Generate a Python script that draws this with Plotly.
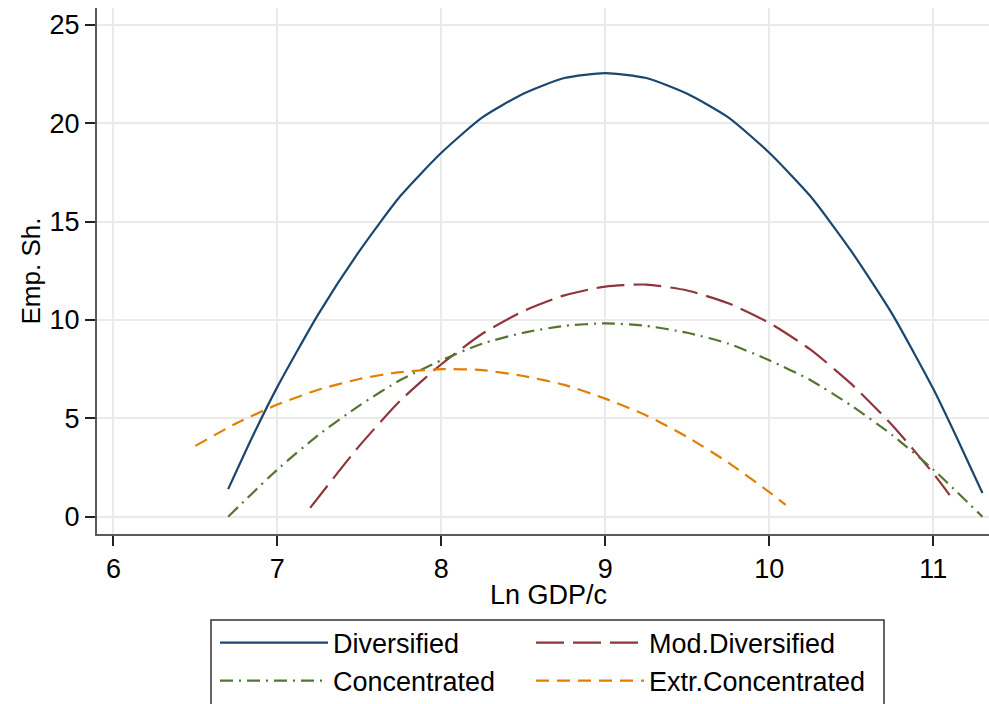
import plotly.graph_objects as go

# ---- data ----
div_x = [6.7, 6.85, 7.0, 7.25, 7.5, 7.75, 8.0, 8.25, 8.5, 8.75, 9.0, 9.25, 9.5, 9.75, 10.0, 10.25, 10.5, 10.75, 11.0, 11.15, 11.3]
div_y = [1.4, 4.1, 6.6, 10.3, 13.5, 16.3, 18.5, 20.3, 21.5, 22.3, 22.55, 22.3, 21.5, 20.3, 18.5, 16.3, 13.5, 10.3, 6.5, 3.9, 1.2]

mod_x = [7.2, 7.5, 7.75, 8.0, 8.25, 8.5, 8.75, 9.0, 9.25, 9.5, 9.75, 10.0, 10.25, 10.5, 10.75, 11.0, 11.1]
mod_y = [0.45, 3.6, 5.9, 7.75, 9.3, 10.45, 11.25, 11.7, 11.8, 11.5, 10.85, 9.85, 8.5, 6.75, 4.65, 2.2, 1.1]

con_x = [6.7, 7.0, 7.25, 7.5, 7.75, 8.0, 8.25, 8.5, 8.75, 9.0, 9.25, 9.5, 9.75, 10.0, 10.25, 10.5, 10.75, 11.0, 11.3]
con_y = [0.0, 2.4, 4.15, 5.65, 6.95, 7.95, 8.8, 9.35, 9.7, 9.83, 9.7, 9.35, 8.8, 7.95, 6.95, 5.65, 4.15, 2.4, 0.0]

ext_x = [6.5, 6.75, 7.0, 7.25, 7.5, 7.75, 8.0, 8.25, 8.5, 8.75, 9.0, 9.25, 9.5, 9.75, 10.0, 10.1]
ext_y = [3.6, 4.75, 5.7, 6.45, 7.0, 7.35, 7.5, 7.45, 7.15, 6.7, 6.0, 5.15, 4.05, 2.75, 1.25, 0.6]

names = ["Diversified", "Mod.Diversified", "Concentrated", "Extr.Concentrated"]
x_ticks = [6, 7, 8, 9, 10, 11]
y_ticks = [0, 5, 10, 15, 20, 25]
x_title = "Ln GDP/c"
y_title = "Emp. Sh."

FONT = "Liberation Sans, Arial, sans-serif"

# (x, y, name, colour, dash, legend row, entry width)
series = [
    (div_x, div_y, names[0], "#1a476f", "solid", "legend", 193),
    (mod_x, mod_y, names[1], "#90353b", "28px,9px", "legend", 300),
    (con_x, con_y, names[2], "#55752f", "13px,6px,2px,6px", "legend2", 193),
    (ext_x, ext_y, names[3], "#e37e00", "13px,8px", "legend2", 300),
]

fig = go.Figure()
for xs, ys, nm, col, dash, lg, lw in series:
    fig.add_trace(go.Scatter(
        x=xs, y=ys, name=nm, mode="lines", legend=lg, legendwidth=lw,
        line=dict(color=col, width=2.2, dash=dash, shape="spline", smoothing=0.6),
    ))

legend_common = dict(
    orientation="h",
    xref="container", yref="container",
    x=215 / 989, xanchor="left",
    yanchor="middle",
    borderwidth=0, bgcolor="rgba(0,0,0,0)",
    font=dict(family=FONT, size=27, color="black"),
    itemwidth=108,
    entrywidthmode="pixels",
    tracegroupgap=0,
)

fig.update_layout(
    width=989, height=704,
    margin=dict(l=97, r=0, t=8, b=170),
    paper_bgcolor="white", plot_bgcolor="white",
    font=dict(family=FONT, color="black", size=27),
    showlegend=True,
    legend=dict(legend_common, y=1 - 643 / 704),
    legend2=dict(legend_common, y=1 - 681 / 704),
    xaxis=dict(
        range=[5.90, 11.34],
        tickvals=x_ticks,
        ticks="outside", ticklen=10, tickwidth=1.5, tickcolor="#222",
        showline=True, linecolor="#5a5a5a", linewidth=2,
        showgrid=True, gridcolor="#eaeaea", gridwidth=1.5,
        zeroline=False,
        tickfont=dict(size=27),
    ),
    yaxis=dict(
        range=[-0.88, 25.86],
        tickvals=y_ticks,
        ticks="outside", ticklen=10, tickwidth=1.5, tickcolor="#222",
        showline=True, linecolor="#5a5a5a", linewidth=2,
        showgrid=True, gridcolor="#eaeaea", gridwidth=1.5,
        zeroline=False,
        tickfont=dict(size=27),
        title=dict(text=y_title, font=dict(size=26), standoff=1),
    ),
    annotations=[dict(
        text=x_title, xref="paper", yref="paper",
        x=(548.5 - 97) / 892, y=(534 - 595) / 526,
        xanchor="center", yanchor="middle", showarrow=False, borderpad=0,
        font=dict(family=FONT, size=27, color="black"),
    )],
    shapes=[dict(
        type="rect", xref="paper", yref="paper",
        x0=(211 - 97) / 892, x1=(884 - 97) / 892,
        y0=(534 - 620) / 526, y1=(534 - 720) / 526,
        line=dict(color="#333333", width=1.5), fillcolor="rgba(0,0,0,0)",
        layer="below",
    )],
)

fig.write_html(
    "out.html",
    config={"displayModeBar": False},
    post_script="document.body.style.margin='0';document.body.style.overflow='hidden';",
)
